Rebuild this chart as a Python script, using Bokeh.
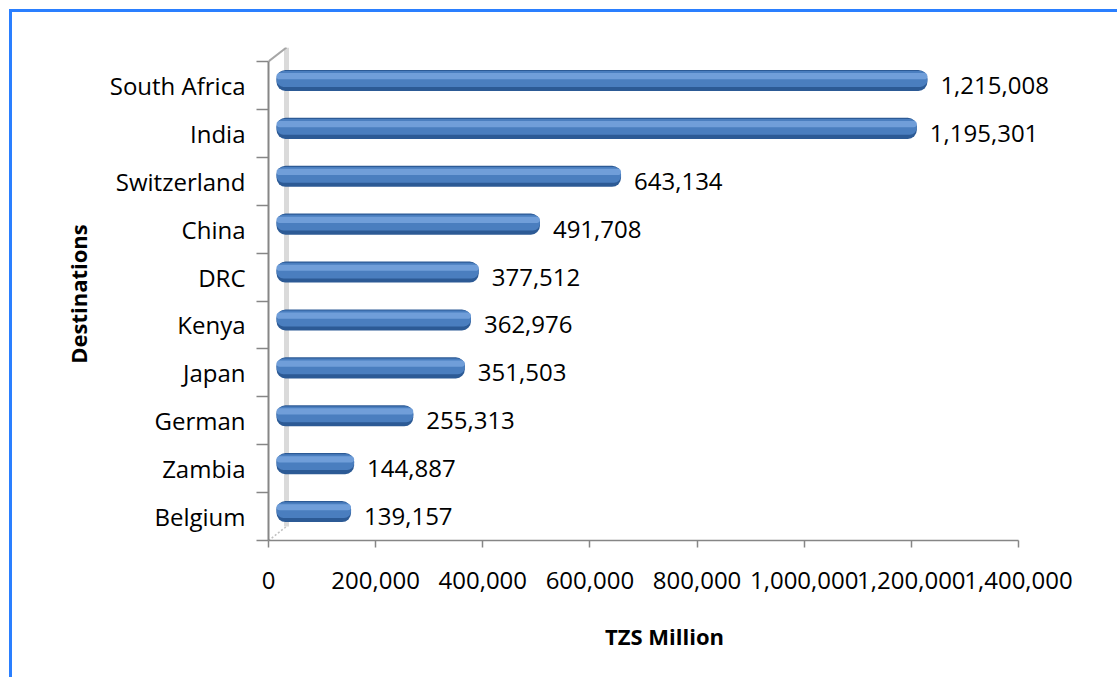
from bokeh.plotting import figure
from bokeh.models import Range1d, FixedTicker, NumeralTickFormatter
from bokeh.core.properties import value
from bokeh.embed import file_html
from bokeh.resources import INLINE

# ---- data ----
destinations = ["South Africa", "India", "Switzerland", "China", "DRC",
                "Kenya", "Japan", "German", "Zambia", "Belgium"]
values_tzs = [1215008, 1195301, 643134, 491708, 377512,
              362976, 351503, 255313, 144887, 139157]
x_ticks = [0, 200000, 400000, 600000, 800000, 1000000, 1200000, 1400000]
x_title = "TZS Million"
y_title = "Destinations"

n = len(destinations)
ypos = [n - 1 - i + 0.5 for i in range(n)]
labels = [f"{v:,}" for v in values_tzs]

FONT = "Open Sans"
AXIS_GRAY = "#868686"
BORDER_BLUE = "#2a7fff"

# ---- geometry (pixels -> data) ----
PX = 1400000 / 750.0          # data units per pixel on x
PY = 1 / 47.9                 # data units per pixel on y
X_END = 792 * PX
Y_END = 493 * PY

p = figure(width=1108, height=668,
           x_range=Range1d(0, X_END), y_range=Range1d(0, Y_END),
           output_backend="svg", toolbar_location=None,
           min_border_left=259, min_border_right=57,
           min_border_top=38, min_border_bottom=137)
p.styles = {
    "margin-left": "9px", "margin-top": "9px",
    "background": (f"linear-gradient(to right, {BORDER_BLUE} 0px, {BORDER_BLUE} 3px, transparent 3px), "
                   f"linear-gradient(to bottom, {BORDER_BLUE} 0px, {BORDER_BLUE} 3px, white 3px)"),
}
p.outline_line_color = None
p.xgrid.visible = False
p.ygrid.visible = False
p.background_fill_color = "white"
p.border_fill_color = None

# 3D offset ranges
p.extra_x_ranges = {
    "bars": Range1d(-8 * PX, X_END - 8 * PX),
    "depth": Range1d(-18 * PX, X_END - 18 * PX),
}
p.extra_y_ranges = {
    "bars": Range1d(-5 * PY, Y_END - 5 * PY),
    "depth": Range1d(-14 * PY, Y_END - 14 * PY),
}

# back wall
p.segment(x0=[0], y0=[0], x1=[0], y1=[n], x_range_name="depth", y_range_name="depth",
          line_color="#dadada", line_width=5)
# top slant of wall
p.segment(x0=[0], y0=[n], x1=[18 * PX], y1=[n + 14 * PY],
          line_color="#a6a6a6", line_width=2)
# floor slant (dotted)
p.segment(x0=[0], y0=[0], x1=[18 * PX], y1=[14 * PY],
          line_color="#c0c0c0", line_width=1.5, line_dash="2 2")

# bars (layered for a cylinder-like look)
p.hbar(y=ypos, left=0, right=values_tzs, height=0.44,
       x_range_name="bars", y_range_name="bars",
       fill_color="#2c5a95", line_color=None, border_radius=9)
p.hbar(y=[y + 0.03 for y in ypos], left=0, right=values_tzs, height=0.33,
       x_range_name="bars", y_range_name="bars",
       fill_color="#4a7ebf", line_color=None, border_radius=7)
p.hbar(y=[y + 0.09 for y in ypos], left=0, right=values_tzs, height=0.13,
       x_range_name="bars", y_range_name="bars",
       fill_color="#74a2dc", line_color=None, border_radius=4, fill_alpha=0.9)

# value labels
p.text(x=values_tzs, y=ypos, text=labels, x_range_name="bars",
       x_offset=13, text_baseline="middle", text_align="left",
       text_font=value(FONT), text_font_size="24px", text_color="black")

# x axis
xa = p.xaxis[0]
xa.ticker = FixedTicker(ticks=x_ticks)
xa.formatter = NumeralTickFormatter(format="0,0")
xa.bounds = (0, 1400000)
xa.axis_line_color = AXIS_GRAY
xa.axis_line_width = 1.5
xa.major_tick_line_color = AXIS_GRAY
xa.major_tick_line_width = 1.5
xa.major_tick_out = 7
xa.major_tick_in = 0
xa.minor_tick_line_color = None
xa.major_label_standoff = 24
xa.major_label_text_font = FONT
xa.major_label_text_font_size = "24px"
xa.major_label_text_color = "black"
xa.axis_label = x_title
xa.axis_label_text_font = FONT
xa.axis_label_text_font_size = "22px"
xa.axis_label_text_font_style = "bold"
xa.axis_label_text_color = "black"
xa.axis_label_standoff = 29

# y axis
ya = p.yaxis[0]
ya.ticker = FixedTicker(ticks=ypos, minor_ticks=list(range(n + 1)))
ya.major_label_overrides = {float(y): d for y, d in zip(ypos, destinations)}
ya.bounds = (0, n)
ya.axis_line_color = AXIS_GRAY
ya.axis_line_width = 2
ya.major_tick_line_color = None
ya.major_tick_out = 0
ya.major_tick_in = 0
ya.minor_tick_line_color = AXIS_GRAY
ya.minor_tick_line_width = 1.5
ya.minor_tick_out = 12
ya.minor_tick_in = 0
ya.major_label_standoff = 11
ya.major_label_text_font = FONT
ya.major_label_text_font_size = "24px"
ya.major_label_text_color = "black"
ya.axis_label = y_title
ya.axis_label_text_font = FONT
ya.axis_label_text_font_size = "22px"
ya.axis_label_text_font_style = "bold"
ya.axis_label_text_color = "black"
ya.axis_label_standoff = 14

open("out.html", "w").write(file_html(p, INLINE))
